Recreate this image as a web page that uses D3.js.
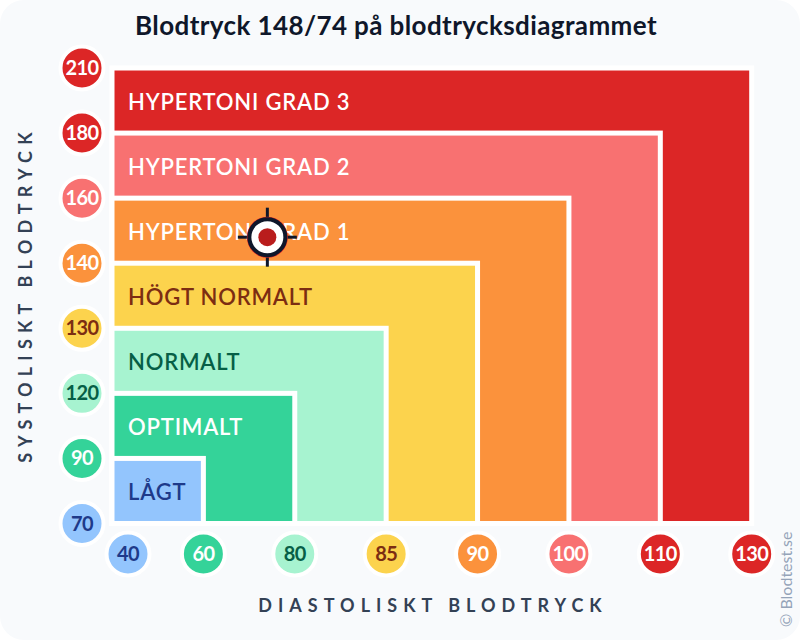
<!DOCTYPE html>
<html>
<head>
<meta charset="utf-8">
<script src="https://cdn.jsdelivr.net/npm/d3@7"></script>
<style>
  html, body { margin: 0; padding: 0; background: #fff; }
  text { font-family: Lato, "Open Sans", sans-serif; }
</style>
</head>
<body>
<div class="chart-container"></div>
<script>
const width = 800;
const height = 640;

const systolicTicks = [70, 90, 120, 130, 140, 160, 180, 210];
const diastolicTicks = [40, 60, 80, 85, 90, 100, 110, 130];
const zoneNames = ['LÅGT', 'OPTIMALT', 'NORMALT', 'HÖGT NORMALT', 'HYPERTONI GRAD 1', 'HYPERTONI GRAD 2', 'HYPERTONI GRAD 3'];
const zoneSystolic = [90, 120, 130, 140, 160, 180, 210];
const zoneDiastolic = [60, 80, 85, 90, 100, 110, 130];
const zoneColors = ['#93c5fd', '#34d399', '#a7f3d0', '#fcd34d', '#fb923c', '#f87171', '#dc2626'];
const zoneTextColors = ['#1e3a8a', '#ffffff', '#065f46', '#7c2d12', '#ffffff', '#ffffff', '#ffffff'];
const systolicTickZone = [0, 1, 2, 3, 4, 5, 6, 6];
const diastolicTickZone = [0, 1, 2, 3, 4, 5, 6, 6];
const reading = { systolic: 148, diastolic: 74 };

// ticks are evenly spaced, the values between them are not
const pointX = d3.scalePoint().domain(diastolicTicks).range([112, 751.7]);
const pointY = d3.scalePoint().domain(systolicTicks).range([523.5, 68]);
const scaleX = d3.scaleLinear().domain(diastolicTicks).range(diastolicTicks.map(pointX));
const scaleY = d3.scaleLinear().domain(systolicTicks).range(systolicTicks.map(pointY));

const svg = d3.select('.chart-container').append('svg')
  .attr('xmlns', 'http://www.w3.org/2000/svg')
  .attr('width', width)
  .attr('height', height)
  .style('display', 'block');

svg.append('rect')
  .attr('width', width)
  .attr('height', height)
  .attr('rx', 24)
  .attr('fill', '#f8fafc');

svg.append('text')
  .attr('x', 396)
  .attr('y', 35)
  .attr('text-anchor', 'middle')
  .attr('font-size', 26)
  .attr('font-weight', 700)
  .attr('letter-spacing', 0.4)
  .attr('fill', '#0f172a')
  .text('Blodtryck 148/74 på blodtrycksdiagrammet');

const zones = zoneNames.map((name, i) => {
  return { name: name, sys: zoneSystolic[i], dia: zoneDiastolic[i], color: zoneColors[i], textColor: zoneTextColors[i] };
}).reverse();

svg.append('g').selectAll('rect')
  .data(zones)
  .join('rect')
  .attr('x', scaleX(40))
  .attr('y', (d) => { return scaleY(d.sys); })
  .attr('width', (d) => { return scaleX(d.dia) - scaleX(40); })
  .attr('height', (d) => { return scaleY(70) - scaleY(d.sys); })
  .attr('fill', (d) => { return d.color; })
  .attr('stroke', '#ffffff')
  .attr('stroke-width', 5);

svg.append('g').selectAll('text')
  .data(zones)
  .join('text')
  .attr('x', 128)
  .attr('y', (d) => { return scaleY(d.sys) + 41.5; })
  .attr('font-size', 22)
  .attr('font-weight', 600)
  .attr('letter-spacing', 0.8)
  .attr('fill', (d) => { return d.textColor; })
  .text((d) => { return d.name; });

const drawBadges = (ticks, tickZone, cx, cy) => {
  const badge = svg.append('g').selectAll('g')
    .data(ticks)
    .join('g')
    .attr('transform', (d) => { return 'translate(' + cx(d) + ',' + cy(d) + ')'; });

  badge.append('circle')
    .attr('r', 21.5)
    .attr('fill', (d, i) => { return zoneColors[tickZone[i]]; })
    .attr('stroke', '#ffffff')
    .attr('stroke-width', 4);

  badge.append('text')
    .attr('text-anchor', 'middle')
    .attr('dy', 7)
    .attr('font-size', 20)
    .attr('font-weight', 700)
    .attr('letter-spacing', -0.6)
    .attr('fill', (d, i) => { return zoneTextColors[tickZone[i]]; })
    .text((d) => { return d; });
};

drawBadges(systolicTicks, systolicTickZone, () => { return 82; }, scaleY);
// first x badge is pushed right so it clears the y badges
drawBadges(diastolicTicks, diastolicTickZone, (d) => { return Math.max(scaleX(d), 128); }, () => { return 554; });

svg.append('text')
  .attr('x', 433)
  .attr('y', 612)
  .attr('text-anchor', 'middle')
  .attr('font-size', 18)
  .attr('font-weight', 700)
  .attr('letter-spacing', 6)
  .attr('fill', '#334155')
  .text('DIASTOLISKT BLODTRYCK');

svg.append('text')
  .attr('transform', 'translate(32,294.5) rotate(-90)')
  .attr('text-anchor', 'middle')
  .attr('font-size', 18)
  .attr('font-weight', 700)
  .attr('letter-spacing', 6.2)
  .attr('fill', '#334155')
  .text('SYSTOLISKT BLODTRYCK');

svg.append('text')
  .attr('transform', 'translate(792,627) rotate(-90)')
  .attr('font-size', 16)
  .attr('fill', '#94a3b8')
  .text('© Blodtest.se');

const marker = svg.append('g')
  .attr('transform', 'translate(' + scaleX(reading.diastolic) + ',' + scaleY(reading.systolic) + ')');

marker.selectAll('line')
  .data([[0, -29.5, 0, -16], [0, 16, 0, 29.5], [-29.5, 0, -16, 0], [16, 0, 29.5, 0]])
  .join('line')
  .attr('x1', (d) => { return d[0]; })
  .attr('y1', (d) => { return d[1]; })
  .attr('x2', (d) => { return d[2]; })
  .attr('y2', (d) => { return d[3]; })
  .attr('stroke', '#0f172a')
  .attr('stroke-width', 3);

marker.append('circle')
  .attr('r', 20.5)
  .attr('fill', '#dc2626');
marker.append('circle')
  .attr('r', 18)
  .attr('fill', '#ffffff')
  .attr('stroke', '#0f172a')
  .attr('stroke-width', 4);
marker.append('circle')
  .attr('r', 9)
  .attr('fill', '#b91c1c');
</script>
</body>
</html>
